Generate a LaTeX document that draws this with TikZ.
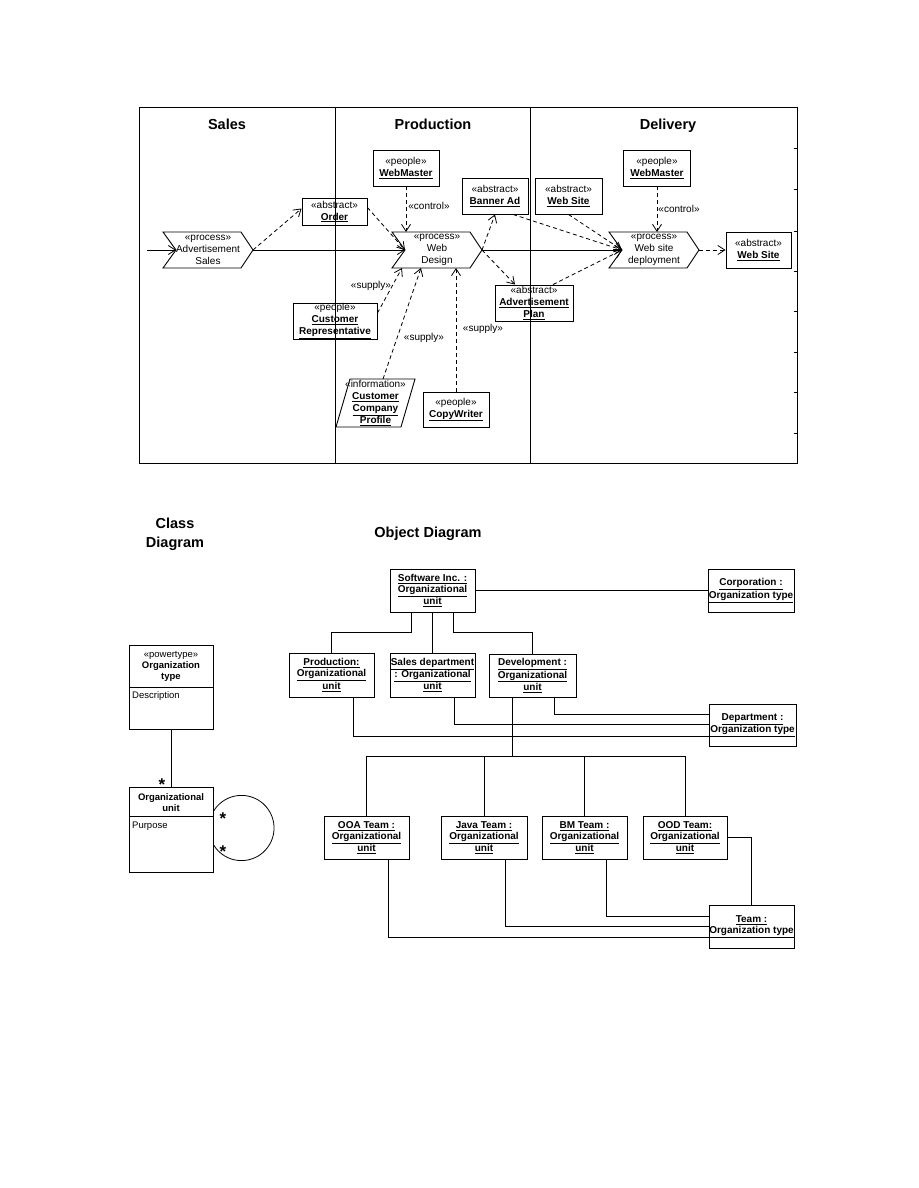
\documentclass[tikz,border=0pt]{standalone}
\usepackage{fontspec}
\setmainfont{Liberation Sans}
\usetikzlibrary{arrows.meta,calc}
\newcommand\chevnode[4]{%
  \node[txt] (#1) at (#2,#3) {#4};
  \draw[frame] (#2-45,#3-18) -- (#2-32,#3) -- (#2-45,#3+18) -- (#2+33,#3+18) -- (#2+45,#3) -- (#2+33,#3-18) -- cycle;
  \coordinate (#1-n) at (#2-32,#3);
  \coordinate (#1-t) at (#2+45,#3);
  \coordinate (#1-top) at (#2,#3-18);
  \coordinate (#1-bot) at (#2,#3+18);
}
\newcommand\ul[1]{\underline{\textbf{#1}}}
\newcommand\starglyph{\raisebox{-0.36em}[0.42em][0pt]{*}}
\begin{document}
\begin{tikzpicture}[x=1pt,y=-1pt,
  ln/.style={line width=0.8pt},
  frame/.style={line width=0.9pt},
  txt/.style={font=\fontsize{10}{12}\selectfont, inner sep=0pt, align=center},
  boxst/.style={draw, line width=0.9pt, inner sep=0pt, align=center, font=\fontsize{10}{12}\selectfont},
  objst/.style={draw, line width=0.9pt, inner sep=0pt, align=center, font=\fontsize{10}{11}\selectfont\bfseries},
  dasharr/.style={line width=0.8pt, dash pattern=on 4pt off 3pt, -{Straight Barb[length=7pt,width=9pt]}},
  solarr/.style={line width=0.8pt, -{Straight Barb[length=7pt,width=9pt]}},
  lbl/.style={font=\fontsize{10}{12}\selectfont, inner sep=0pt},
  ttl/.style={font=\fontsize{14.5}{19}\selectfont\bfseries, inner sep=0pt, align=center, anchor=base},
  small/.style={font=\fontsize{9.5}{11}\selectfont, inner sep=0pt, align=center},
  star/.style={font=\fontsize{17}{17}\selectfont\bfseries, inner sep=0pt}
]
\fill[white] (0,0) rectangle (918,1188);
\useasboundingbox (0,0) rectangle (918,1188);

% ---------------- swimlanes ----------------
\draw[frame] (139,107) rectangle (797,463);
\draw[frame] (335,107) -- (335,463);
\draw[frame] (530,107) -- (530,463);
\foreach \yy in {148,189,231,271,311,352,392,433} \draw[ln] (794,\yy) -- (797,\yy);
\node[ttl] (tsales) at (227,130) {Sales};
\node[ttl] (tprod) at (433,130) {Production};
\node[ttl] (tdel) at (668,130) {Delivery};

\chevnode{adv}{208}{250}{«process»\\Advertisement\\Sales}
\chevnode{wd}{437}{250}{«process»\\Web\\Design}
\chevnode{dep}{654}{250}{«process»\\Web site\\deployment}

\node[boxst, minimum width=65pt, minimum height=27pt] (order) at (334.5,211.5) {«abstract»\\\ul{Order}};
\node[boxst, minimum width=66pt, minimum height=36pt] (wm1) at (406,168) {«people»\\\ul{WebMaster}};
\node[boxst, minimum width=66pt, minimum height=36pt] (banner) at (495,196) {«abstract»\\\ul{Banner Ad}};
\node[boxst, minimum width=67pt, minimum height=36pt] (website1) at (568.5,196) {«abstract»\\\ul{Web Site}};
\node[boxst, minimum width=67pt, minimum height=36pt] (wm2) at (657,168) {«people»\\\ul{WebMaster}};
\node[boxst, minimum width=65pt, minimum height=36pt] (website2) at (758.5,250) {«abstract»\\\ul{Web Site}};
\node[boxst, minimum width=78pt, minimum height=36pt] (plan) at (534,303) {«abstract»\\\ul{Advertisement}\\\ul{Plan}};
\node[boxst, minimum width=84pt, minimum height=36pt] (custrep) at (335,321) {«people»\\\ul{Customer}\\\ul{Representative}};
\node[boxst, minimum width=66pt, minimum height=35pt] (copy) at (456,409.5) {«people»\\\ul{CopyWriter}};

\draw[frame] (350,379) -- (415,379) -- (401,427) -- (336,427) -- cycle;
\node[txt] (ccp) at (375.5,403) {«information»\\\ul{Customer}\\\ul{Company}\\\ul{Profile}};
\coordinate (ccp-top) at (383,379);

\node[lbl] (ctl1) at (429,206) {«control»};
\node[lbl] (ctl2) at (679,209) {«control»};
\node[lbl] (sup1) at (371,286) {«supply»};
\node[lbl] (sup2) at (424,338) {«supply»};
\node[lbl] (sup3) at (483,329) {«supply»};

\coordinate (in) at (147,250);
\coordinate (wdb1) at (402,268);
\coordinate (wdb2) at (421,268);
\draw[solarr] (in) -- (adv-n);
\draw[solarr] (adv-t) -- (wd-n);
\draw[solarr] (wd-t) -- (dep-n);
\draw[dasharr] (adv-t) -- ([yshift=3pt]order.west);
\draw[dasharr] ([yshift=4pt]order.east) -- (wd-n);
\draw[dasharr] (wm1.south) -- (wm1.south |- wd-top);
\draw[dasharr] (wd-t) -- (banner.south);
\draw[dasharr] (wd-t) -- ([xshift=-19pt]plan.north);
\draw[dasharr] ([xshift=18pt]banner.south) -- (dep-n);
\draw[dasharr] (website1.south) -- (dep-n);
\draw[dasharr] ([xshift=19pt]plan.north) -- (dep-n);
\draw[dasharr] (wm2.south) -- (wm2.south |- dep-top);
\draw[dasharr] (dep-t) -- (website2.west);
\draw[dasharr] ([yshift=8pt]custrep.east) -- (wdb1);
\draw[dasharr] (ccp-top) -- (wdb2);
\draw[dasharr] (copy.north) -- (copy.north |- wd-bot);

% ---------------- class diagram ----------------
\node[ttl] (tclass) at (175,547) {Class\\Diagram};
\node[ttl] (tobj) at (428,537) {Object Diagram};

\node[draw, line width=0.9pt, minimum width=84pt, minimum height=84pt, inner sep=0pt] (orgtype) at (171,687) {};
\draw[ln] (129,687) -- (213,687);
\node[small] (orgtypeh) at (171,666) {«powertype»\\\textbf{Organization}\\\textbf{type}};
\node[small, anchor=west] (desc) at (132,696) {Description};

\node[draw, line width=0.9pt, minimum width=84pt, minimum height=85pt, inner sep=0pt] (orgunit) at (171,829.5) {};
\draw[ln] (129,816) -- (213,816);
\node[small] (orgunith) at (171,802.5) {\textbf{Organizational}\\\textbf{unit}};
\node[small, anchor=west] (purp) at (132,826) {Purpose};

\draw[ln] (orgtype.south) -- (orgunit.north);
\draw[ln] ([yshift=18.2pt]orgunit.east) arc[start angle=149.2, end angle=-149.2, radius=32.6pt];
\node[star] (s1) at (162,781) {\starglyph};
\node[star] (s2) at (223,815) {\starglyph};
\node[star] (s3) at (223,848) {\starglyph};

% ---------------- object diagram ----------------
\node[objst, minimum width=85pt, minimum height=43pt] (sw) at (432.5,590.5) {\underline{Software Inc. :}\\\underline{Organizational}\\\underline{unit}};
\node[objst, minimum width=86pt, minimum height=43pt] (corp) at (751,590.5) {\underline{Corporation :}\\\underline{Organization type}};
\node[objst, minimum width=85pt, minimum height=44pt] (prod) at (331.5,675) {\underline{Production:}\\\underline{Organizational}\\\underline{unit}};
\node[objst, minimum width=85pt, minimum height=44pt] (sales) at (432.5,675) {\underline{Sales department}\\\underline{: Organizational}\\\underline{unit}};
\node[objst, minimum width=87pt, minimum height=43pt] (dev) at (532.5,675.5) {\underline{Development :}\\\underline{Organizational}\\\underline{unit}};
\node[objst, minimum width=87pt, minimum height=42pt] (dept) at (752.5,725) {\underline{Department :}\\\underline{Organization type}};
\node[objst, minimum width=85pt, minimum height=43pt] (ooa) at (366.5,837.5) {\underline{OOA Team :}\\\underline{Organizational}\\\underline{unit}};
\node[objst, minimum width=86pt, minimum height=43pt] (java) at (484,837.5) {\underline{Java Team :}\\\underline{Organizational}\\\underline{unit}};
\node[objst, minimum width=85pt, minimum height=43pt] (bm) at (584.5,837.5) {\underline{BM Team :}\\\underline{Organizational}\\\underline{unit}};
\node[objst, minimum width=84pt, minimum height=43pt] (ood) at (685,837.5) {\underline{OOD Team:}\\\underline{Organizational}\\\underline{unit}};
\node[objst, minimum width=85pt, minimum height=43pt] (team) at (751.5,926.5) {\underline{Team :}\\\underline{Organization type}};

\draw[ln] (sw.east) -- (corp.west);
\draw[ln] ([xshift=-21.5pt]sw.south) -- ++(0,20) -| (prod.north);
\draw[ln] (sw.south) -- (sales.north);
\draw[ln] ([xshift=20.5pt]sw.south) -- ++(0,20) -| (dev.north);
\draw[ln] ([xshift=21.5pt]dev.south) |- ([yshift=11pt]dept.west);
\draw[ln] ([xshift=21.5pt]sales.south) |- ([yshift=1pt]dept.west);
\draw[ln] ([xshift=21.5pt]prod.south) |- ([yshift=-11pt]dept.west);
\draw[ln] ([xshift=-20.5pt]dev.south) -- ++(0,60);
\draw[ln] (ooa.north) -- ++(0,-59) -| (ood.north);
\draw[ln] (java.north) -- ++(0,-59);
\draw[ln] (bm.north) -- ++(0,-59);
\draw[ln] (ood.east) -| (team.north);
\draw[ln] ([xshift=21.5pt]bm.south) |- ([yshift=10.5pt]team.west);
\draw[ln] ([xshift=21pt]java.south) |- (team.west);
\draw[ln] ([xshift=21.5pt]ooa.south) |- ([yshift=-10.5pt]team.west);
\end{tikzpicture}
\end{document}
